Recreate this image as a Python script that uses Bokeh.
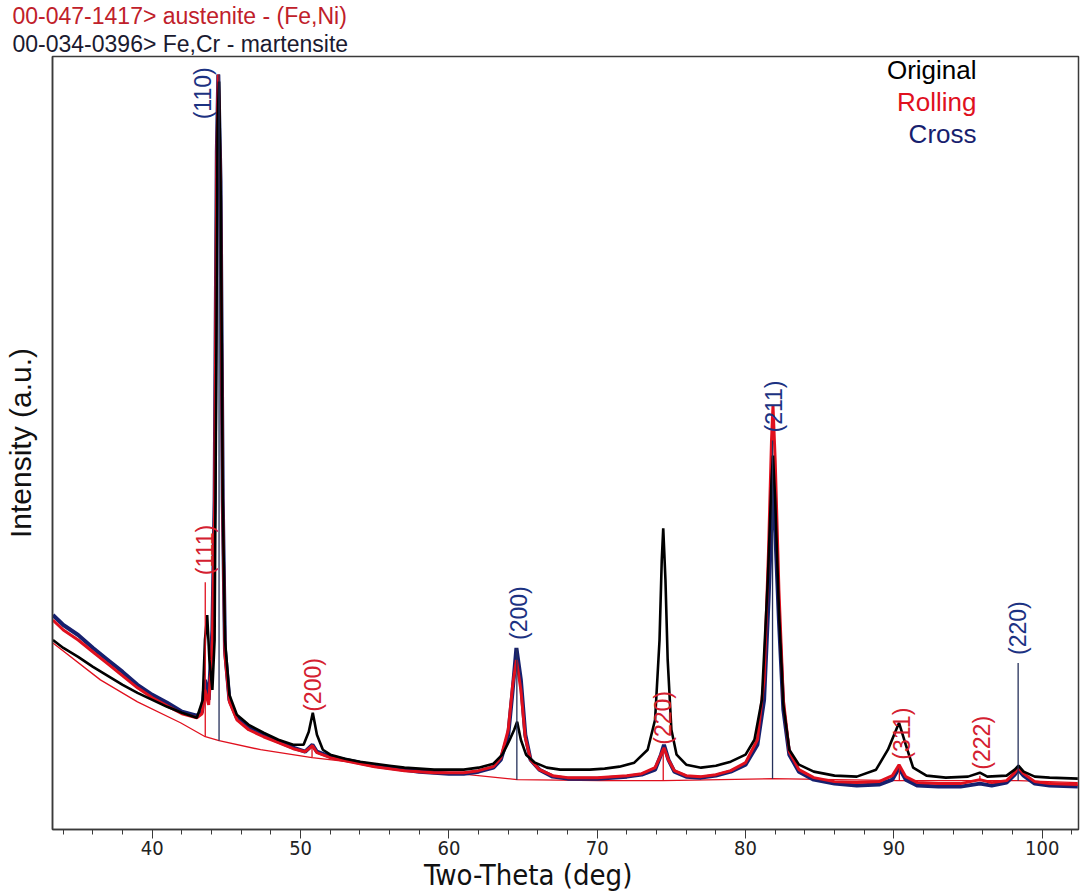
import math
from bokeh.plotting import figure
from bokeh.models import Range1d, SingleIntervalTicker, FixedTicker, Label, Title
from bokeh.core.properties import value
from bokeh.embed import file_html
from bokeh.resources import INLINE

# ---------------- data ----------------
series_names = ["Original", "Rolling", "Cross"]

tt_cross = [33.3, 34.0, 35.0, 36.0, 37.0, 38.0, 39.0, 40.0, 41.0, 42.0, 43.0, 43.35, 43.55, 43.8,
            44.05, 44.2, 44.35, 44.45, 44.6, 44.75, 44.9, 45.2, 45.7, 46.5, 47.5, 48.5, 49.5, 50.3,
            50.8, 51.1, 52, 53, 54, 55, 56, 57, 58, 59, 60, 61, 62, 63, 63.5, 64.0, 64.3, 64.55,
            64.85, 65.15, 65.5, 66.1, 67, 68, 69, 70, 71, 72, 73, 73.9, 74.3, 74.5, 74.8, 75.2, 76,
            77, 78, 79, 80, 80.8, 81.25, 81.55, 81.75, 81.85, 82.0, 82.25, 82.55, 82.95, 83.6, 84.6,
            86, 87.5, 89, 89.9, 90.35, 90.8, 91.6, 93, 94.5, 95.8, 96.6, 97.6, 98.15, 98.4, 98.75,
            99.5, 100.5, 102.4]
int_cross = [215, 205, 195, 182, 170, 158, 145, 135, 127, 118, 114, 118, 150, 130,
             200, 330, 680, 757, 650, 330, 180, 130, 112, 102, 95, 88, 82, 78,
             85, 78, 73, 70, 67, 64, 62, 60, 58, 57, 56, 56, 58, 62, 70, 95, 140, 182,
             150, 95, 70, 60, 53, 51, 51, 51, 52, 53, 55, 60, 75, 85, 70, 58, 53,
             52, 54, 58, 65, 85, 130, 230, 310, 350, 300, 210, 120, 75, 58, 50,
             46, 44, 45, 50, 62, 50, 44, 43, 43, 46, 44, 47, 55, 60, 54,
             46, 44, 43]

tt_rolling = tt_cross
int_rolling = [210, 200, 190, 178, 166, 154, 142, 132, 124, 116, 112, 116, 140, 125,
               190, 320, 670, 757, 640, 320, 175, 128, 110, 100, 93, 87, 81, 78,
               84, 77, 72, 69, 66, 63, 61, 59, 58, 57, 57, 57, 59, 63, 72, 100, 145, 170,
               140, 92, 70, 60, 54, 52, 52, 52, 53, 54, 56, 62, 75, 82, 70, 59, 54,
               53, 55, 59, 67, 90, 150, 280, 390, 425, 370, 240, 130, 78, 60, 52,
               48, 47, 48, 54, 65, 53, 47, 46, 46, 50, 47, 49, 57, 62, 56,
               48, 46, 45]

tt_original = [33.3, 34, 35, 36, 37, 38, 39, 40, 41, 42, 43, 43.4, 43.55, 43.7, 43.85, 44.05, 44.2,
               44.3, 44.4, 44.5, 44.62, 44.75, 44.9, 45.2, 45.7, 46.5, 47.5, 48.5, 49.5, 50.2,
               50.55, 50.82, 51.1, 51.5, 52, 53, 54, 55, 56, 57, 58, 59, 60, 61, 62, 63, 63.6, 64.1,
               64.4, 64.6, 64.85, 65.2, 65.8, 66.6, 67.5, 68.5, 69.5, 70.5, 71.5, 72.5, 73.4, 73.9,
               74.2, 74.35, 74.45, 74.6, 74.75, 75.0, 75.35, 76, 77, 78, 79, 80, 80.6, 81.1, 81.5,
               81.75, 81.85, 82.0, 82.25, 82.55, 82.95, 83.6, 84.6, 86, 87.5, 88.8, 89.6, 90.35,
               90.8, 91.3, 92.2, 93.5, 95, 95.8, 96.3, 97.6, 98.15, 98.4, 98.75, 99.5, 100.5, 102.4]
int_original = [190, 182, 173, 163, 154, 145, 137, 130, 123, 117, 112, 130, 190, 215, 170, 140, 190,
                430, 710, 750, 630, 330, 190, 135, 115, 105, 97, 90, 85, 85,
                98, 117, 95, 80, 75, 71, 68, 66, 64, 62, 61, 60, 60, 60, 62, 66, 75, 90,
                100, 108, 90, 75, 67, 62, 60, 60, 60, 61, 63, 67, 80, 110,
                190, 270, 302, 250, 170, 100, 75, 65, 62, 64, 68, 75, 90, 130, 250,
                350, 375, 330, 220, 125, 80, 65, 58, 54, 53, 60, 80, 107,
                85, 62, 54, 52, 53, 57, 53, 54, 60, 64, 58, 53, 52, 51]

# reference pattern background (austenite card)
tt_background = [33.3, 36.5, 39.0, 41.9, 43.57, 44.5, 47.3, 50.77, 56.7, 64.6, 70.2, 74.45, 81.82,
                 90.37, 98.38, 102.4]
int_background = [187, 150, 128, 107, 93, 89, 80, 72, 62, 50, 49, 49, 51, 49, 49, 47]

# 00-047-1417 austenite (Fe,Ni) sticks
aus_tt = [43.57, 50.77, 74.45, 90.37, 95.8]
aus_base = [93, 72, 49, 49, 49]
aus_top = [248, 85, 80, 63, 54]
aus_hkl = ["(111)", "(200)", "(220)", "(311)", "(222)"]
aus_label_tt = [43.57, 50.84, 74.45, 90.57, 95.96]
aus_label_int = [255, 118, 85, 70, 60]

# 00-034-0396 Fe,Cr martensite sticks
mart_tt = [44.5, 64.58, 81.82, 98.38]
mart_base = [89, 50, 51, 49]
mart_top = [757, 182, 390, 167]
mart_hkl = ["(110)", "(200)", "(211)", "(220)"]
mart_label_tt = [43.45, 64.71, 81.95, 98.38]
mart_label_int = [712, 190, 398, 175]

header_lines = ["00-047-1417> austenite - (Fe,Ni)", "00-034-0396> Fe,Cr - martensite"]
x_title = "Two-Theta (deg)"
y_title = "Intensity (a.u.)"

# ---------------- styling ----------------
BLACK = "#000000"
RED = "#e0101e"
NAVY = "#16206e"
LABEL_RED = "#d42030"
LABEL_NAVY = "#1c3282"
FONT = "Liberation Sans"
AXIS_COL = "#3a3a3a"

p = figure(width=1080, height=894, output_backend="svg", toolbar_location=None,
           x_range=Range1d(33.27, 102.45), y_range=Range1d(0, 775),
           min_border_left=52, min_border_right=2, min_border_top=55, min_border_bottom=64,
           title=Title(text=header_lines[0], align="left", offset=-40, standoff=0,
                       text_font=FONT, text_font_size="23px", text_font_style="normal",
                       text_color="#c0202a"))
p.add_layout(Title(text=header_lines[1], align="left", offset=-40, standoff=0,
                   text_font=FONT, text_font_size="23px", text_font_style="normal",
                   text_color="#1a1a30"), "above")
p.background_fill_color = "white"
p.border_fill_color = "white"
p.grid.visible = False
p.outline_line_color = AXIS_COL
p.outline_line_width = 1.5

xa = p.xaxis[0]
xa.ticker = SingleIntervalTicker(interval=10, num_minor_ticks=5)
xa.axis_line_color = AXIS_COL
xa.axis_line_width = 1.5
xa.major_tick_in = 0
xa.major_tick_out = 9
xa.minor_tick_in = 0
xa.minor_tick_out = 5
xa.major_tick_line_color = AXIS_COL
xa.minor_tick_line_color = AXIS_COL
xa.major_label_standoff = 2
xa.major_label_text_font = "DejaVu Sans Condensed, Liberation Sans"
xa.major_label_text_font_size = "20px"
xa.major_label_text_color = "#222222"
xa.axis_label = x_title + "\u00a0" * 9
xa.axis_label_standoff = 0
xa.axis_label_text_font = "DejaVu Sans Condensed, Liberation Sans"
xa.axis_label_text_font_size = "29px"
xa.axis_label_text_font_style = "normal"
xa.axis_label_text_color = "#111111"

ya = p.yaxis[0]
ya.ticker = FixedTicker(ticks=[])
ya.axis_line_color = AXIS_COL
ya.axis_line_width = 1.5
ya.major_tick_out = 0
ya.minor_tick_out = 0
ya.major_label_standoff = 0
ya.axis_label = y_title
ya.axis_label_standoff = 16
ya.axis_label_text_font = FONT
ya.axis_label_text_font_size = "30px"
ya.axis_label_text_font_style = "normal"
ya.axis_label_text_color = "#111111"

# reference background line
p.line(tt_background, int_background, line_color=RED, line_width=1.3)

# measured patterns
p.line(tt_cross, int_cross, line_color=NAVY, line_width=4)
p.line(tt_rolling, int_rolling, line_color=RED, line_width=3)
p.line(tt_original, int_original, line_color=BLACK, line_width=2.6)

# stick patterns
p.segment(x0=aus_tt, y0=aus_base, x1=aus_tt, y1=aus_top, line_color=RED, line_width=1.3)
p.segment(x0=mart_tt, y0=mart_base, x1=mart_tt, y1=mart_top, line_color="#25305a", line_width=1.3)

p.text(x=aus_label_tt, y=aus_label_int, text=aus_hkl, angle=math.pi / 2,
       text_align="left", text_baseline="middle", text_color=LABEL_RED,
       text_font=value(FONT), text_font_size="23px")
p.text(x=mart_label_tt, y=mart_label_int, text=mart_hkl, angle=math.pi / 2,
       text_align="left", text_baseline="middle", text_color=LABEL_NAVY,
       text_font=value(FONT), text_font_size="23px")

# legend (text only, right aligned)
legend_colors = [BLACK, RED, NAVY]
for i, (name, col) in enumerate(zip(series_names, legend_colors)):
    p.add_layout(Label(x=924, y=760 - 32 * i, x_units="screen", y_units="screen",
                       text=name, text_align="right", text_baseline="middle",
                       text_color=col, text_font=FONT, text_font_size="26px"))

open("out.html", "w").write(file_html(p, INLINE))
